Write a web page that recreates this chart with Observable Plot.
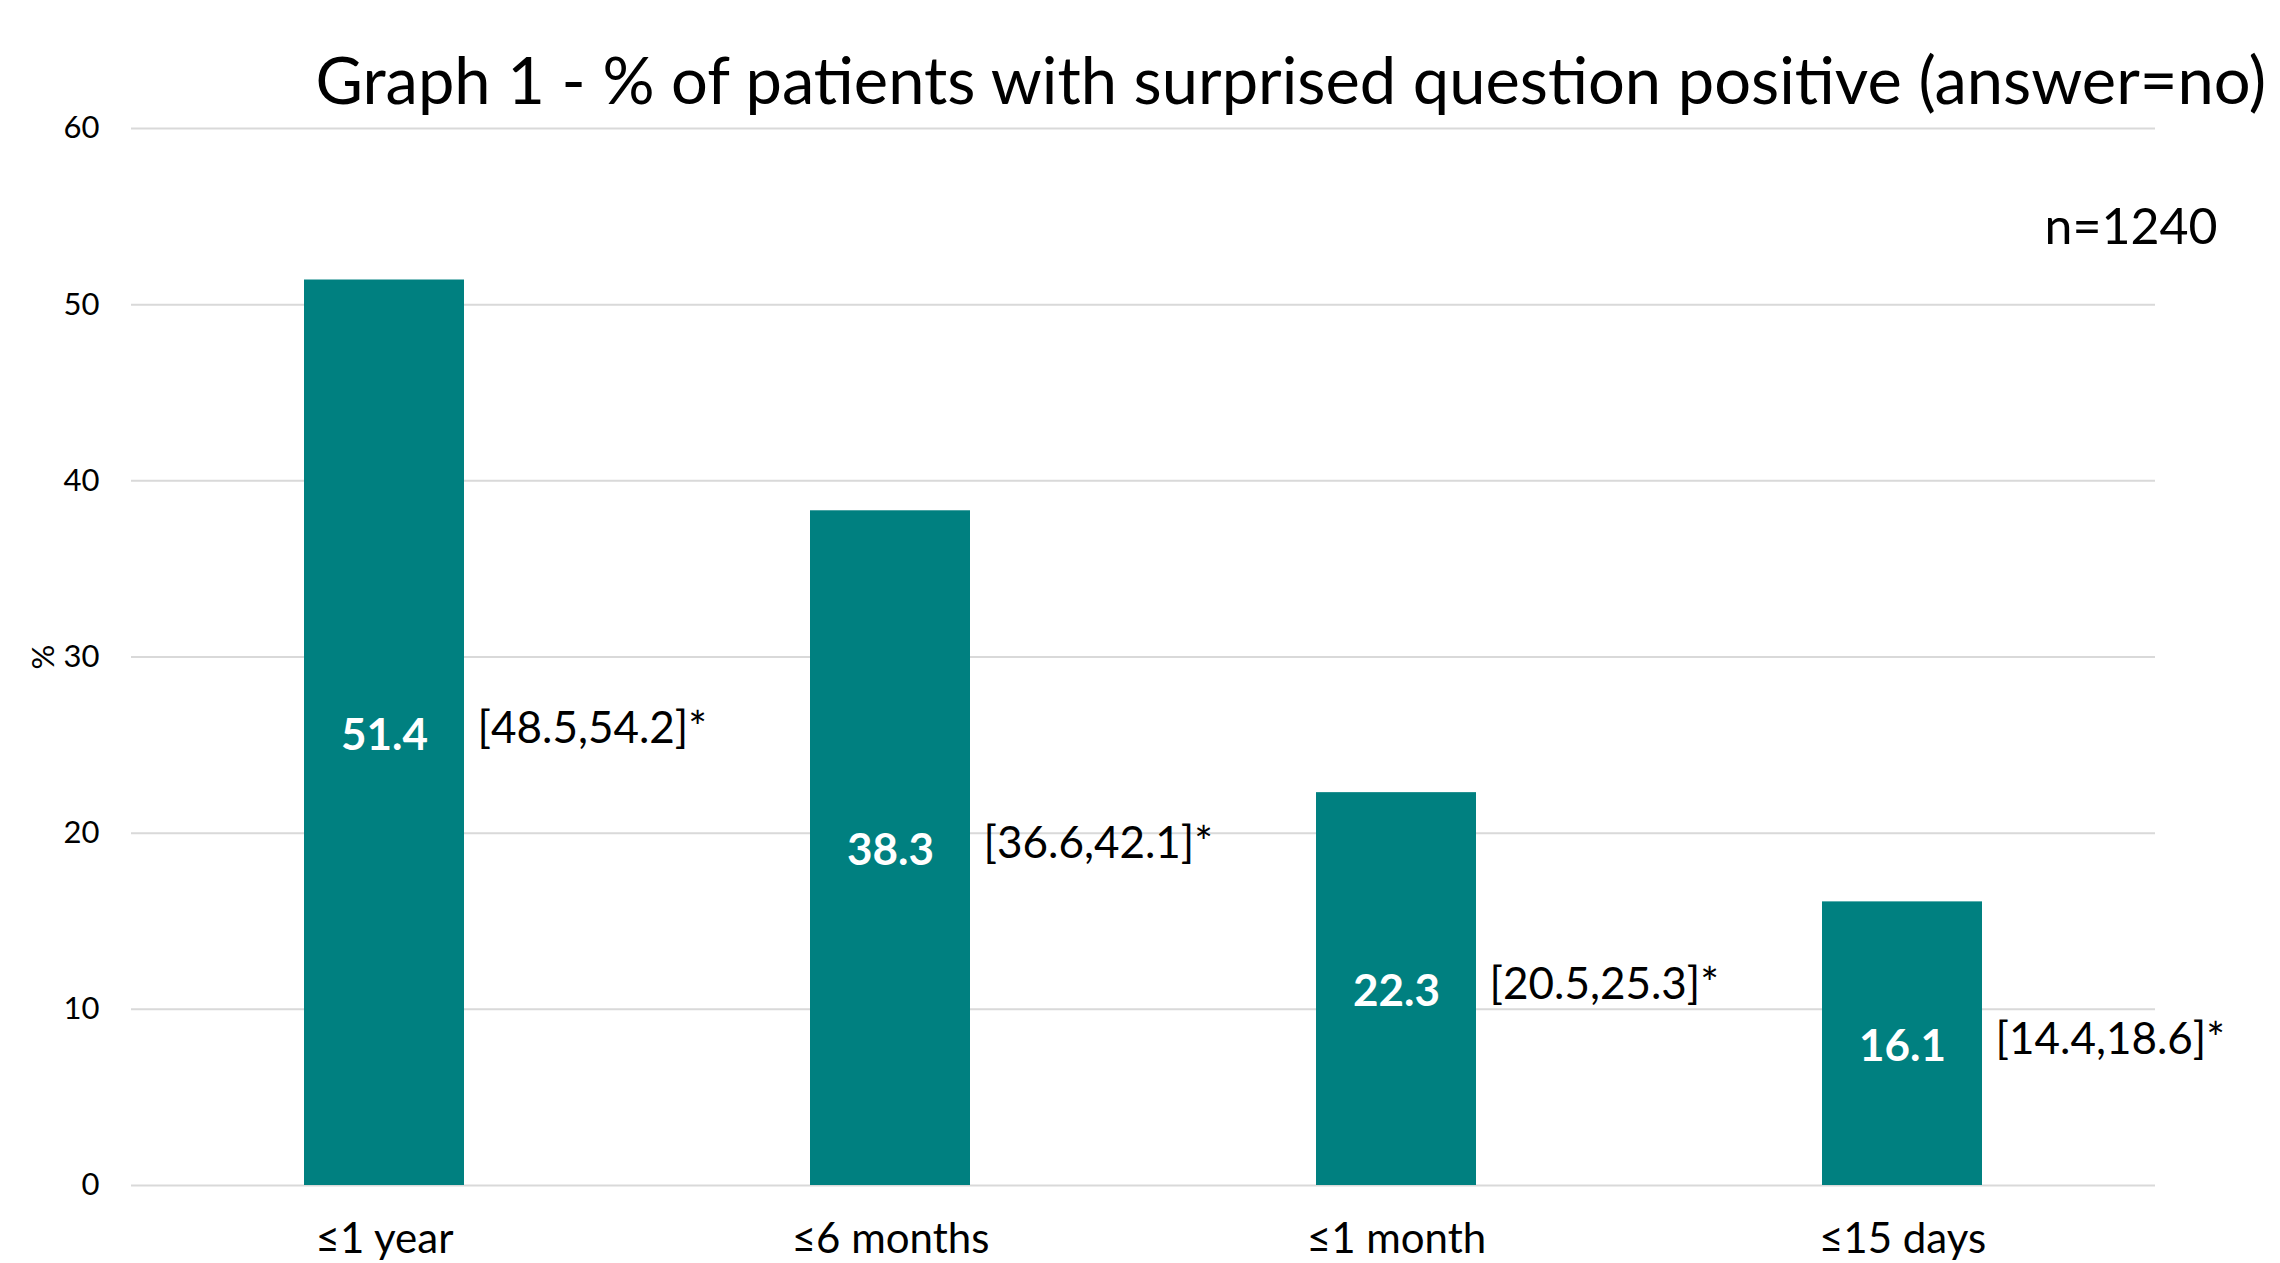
<!DOCTYPE html>
<html>
<head>
<meta charset="utf-8">
<script src="https://cdn.jsdelivr.net/npm/d3@7"></script>
<script src="https://cdn.jsdelivr.net/npm/@observablehq/plot@0.6"></script>
<style>
  html, body { margin: 0; padding: 0; background: #ffffff; }
  #chart svg { display: block; }
</style>
</head>
<body>
<div id="chart"></div>
<script>
const categories = ["≤1 year", "≤6 months", "≤1 month", "≤15 days"];
const values = [51.4, 38.3, 22.3, 16.1];
const ciLow = [48.5, 36.6, 20.5, 14.4];
const ciHigh = [54.2, 42.1, 25.3, 18.6];
const yTicks = [0, 10, 20, 30, 40, 50, 60];
const titleText = "Graph 1 - % of patients with surprised question positive (answer=no)";
const sampleText = "n=1240";
const yLabel = "%";

const data = categories.map((c, i) => ({
  cat: c,
  value: values[i],
  ci: `[${ciLow[i].toFixed(1)},${ciHigh[i].toFixed(1)}]*`
}));

const font = "Lato, 'Open Sans', 'DejaVu Sans', sans-serif";

const chart = Plot.plot({
  width: 2280,
  height: 1263,
  marginLeft: 131,
  marginRight: 125,
  marginTop: 128,
  marginBottom: 78,
  style: { fontFamily: font, fontSize: "31px", color: "#000", background: "#fff" },
  x: { domain: categories, paddingInner: 0.684, paddingOuter: 0.342 },
  y: { domain: [0, 60] },
  marks: [
    Plot.gridY(yTicks, { stroke: "#d9d9d9", strokeOpacity: 1, strokeWidth: 2 }),
    Plot.barY(data, { x: "cat", y: "value", fill: "#008080" }),
    Plot.axisY({
      ticks: yTicks, tickSize: 0, tickPadding: 32, fontSize: 31,
      label: yLabel, labelAnchor: "center", labelArrow: "none", labelOffset: 100
    }),
    Plot.axisX({ tickSize: 0, tickPadding: 38, fontSize: 42, label: null }),
    Plot.text(data, {
      x: "cat", y: d => d.value / 2, text: d => d.value.toFixed(1),
      fill: "white", fontWeight: "bold", fontSize: 44, dy: 3,
      letterSpacing: "2px"
    }),
    Plot.text(data, {
      x: "cat", y: d => d.value / 2, text: "ci",
      textAnchor: "start", dx: 93, dy: -4, fill: "black", fontSize: 44
    }),
    Plot.text([titleText], {
      frameAnchor: "top-left", textAnchor: "start", lineAnchor: "bottom",
      dx: 184, dy: -25, fontSize: 65, fill: "black"
    }),
    Plot.text([sampleText], {
      frameAnchor: "top-right", textAnchor: "end", lineAnchor: "bottom",
      dx: 62, dy: 115, fontSize: 50, fill: "black"
    })
  ]
});
document.getElementById("chart").appendChild(chart);
</script>
</body>
</html>
